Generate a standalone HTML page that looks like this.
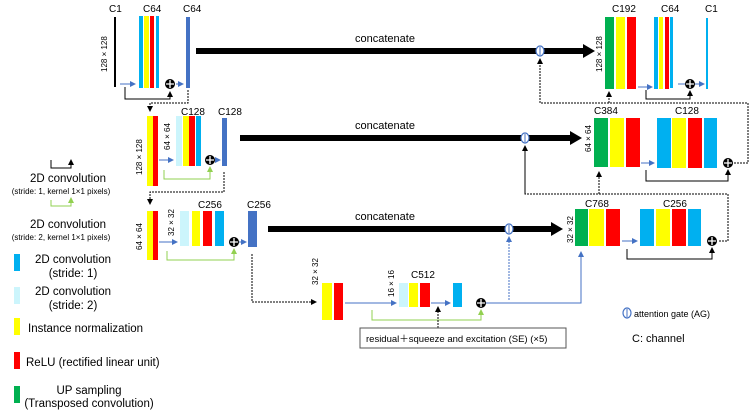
<!DOCTYPE html>
<html><head><meta charset="utf-8"><style>body{margin:0;background:#fff}svg{display:block}text{font-family:"Liberation Sans","Noto Sans CJK JP",sans-serif}</style></head><body>
<svg width="750" height="416" viewBox="0 0 750 416" xmlns="http://www.w3.org/2000/svg">
<defs>
<marker id="ab" markerWidth="6" markerHeight="6" refX="5" refY="3" orient="auto"><path d="M0,0L6,3L0,6z" fill="#4472c4"/></marker>
<marker id="ak" markerWidth="6" markerHeight="6" refX="5" refY="3" orient="auto"><path d="M0,0L6,3L0,6z" fill="#000"/></marker>
<marker id="ag" markerWidth="6" markerHeight="6" refX="5" refY="3" orient="auto"><path d="M0,0L6,3L0,6z" fill="#92d050"/></marker>
<g id="plus"><circle r="5" fill="#000"/><path d="M-4,0H4M0,-4V4" stroke="#fff" stroke-width="1.3"/></g>
<g id="ag1"><ellipse rx="4" ry="5" fill="#fff" stroke="#4472c4" stroke-width="1.2"/><line x1="0" y1="-4" x2="0" y2="4" stroke="#4472c4"/></g>
</defs>
<g font-size="10" fill="#000">
<text x="109" y="12">C1</text><text x="143" y="12">C64</text><text x="183" y="12">C64</text>
<line x1="115" y1="17" x2="115" y2="87" stroke="#000" stroke-width="2"/>
<text transform="translate(107,72) rotate(-90)" font-size="8">128 × 128</text>
<rect x="139" y="16" width="4" height="72" fill="#00b0f0"/><rect x="144" y="16" width="5" height="72" fill="#ff0"/><rect x="150" y="16" width="4" height="72" fill="#f00"/><rect x="156" y="16" width="3" height="72" fill="#00b0f0"/>
<rect x="186" y="17" width="4" height="71" fill="#4472c4"/>
<line x1="120" y1="84" x2="135" y2="84" stroke="#4472c4" marker-end="url(#ab)"/>
<line x1="176" y1="84" x2="183" y2="84" stroke="#4472c4" marker-end="url(#ab)"/>
<path d="M125,87V99H170V92" fill="none" stroke="#000" marker-end="url(#ak)"/>
<use href="#plus" x="170" y="84"/>
<path d="M188,90V103H150V111" fill="none" stroke="#000" stroke-dasharray="2,1" marker-end="url(#ak)"/>
<rect x="196" y="48" width="388" height="6" fill="#000"/><path d="M583,44L595,51L583,58z" fill="#000"/>
<text x="355" y="42" font-size="11">concatenate</text>
<use href="#ag1" x="540" y="51"/>
<text x="612" y="12">C192</text><text x="661" y="12">C64</text><text x="705" y="12">C1</text>
<text transform="translate(602,72) rotate(-90)" font-size="8">128 × 128</text>
<rect x="605" y="17" width="9" height="72" fill="#00b050"/><rect x="616" y="17" width="9" height="72" fill="#ff0"/><rect x="627" y="17" width="9" height="72" fill="#f00"/>
<rect x="654" y="17" width="4" height="72" fill="#00b0f0"/><rect x="659" y="17" width="4" height="72" fill="#ff0"/><rect x="665" y="17" width="4" height="72" fill="#f00"/><rect x="670" y="17" width="3" height="71" fill="#00b0f0"/>
<rect x="706" y="18" width="2" height="71" fill="#00b0f0"/>
<line x1="638" y1="87" x2="652" y2="87" stroke="#4472c4" marker-end="url(#ab)"/>
<line x1="678" y1="84" x2="685" y2="84" stroke="#4472c4"/><line x1="695" y1="84" x2="704" y2="84" stroke="#4472c4" marker-end="url(#ab)"/>
<path d="M646,90V99H690V91" fill="none" stroke="#000" marker-end="url(#ak)"/>
<use href="#plus" x="690" y="84"/>
<path d="M609,103V92" fill="none" stroke="#000" stroke-dasharray="2,1" marker-end="url(#ak)"/>
<path d="M540,62V103H748V163H734" fill="none" stroke="#000" stroke-dasharray="2,1"/>
<path d="M540,103V59" fill="none" stroke="#000" stroke-dasharray="2,1" marker-end="url(#ak)"/>
<text x="181" y="115">C128</text><text x="218" y="115">C128</text>
<text transform="translate(142,175) rotate(-90)" font-size="8">128 × 128</text>
<text transform="translate(170,150) rotate(-90)" font-size="8">64 × 64</text>
<rect x="147" y="116" width="6" height="70" fill="#ff0"/><rect x="153" y="116" width="5" height="70" fill="#f00"/>
<rect x="176" y="116" width="6" height="50" fill="#ccf5fc"/><rect x="183" y="116" width="6" height="50" fill="#ff0"/><rect x="189" y="116" width="6" height="50" fill="#f00"/><rect x="196" y="116" width="5" height="50" fill="#00b0f0"/>
<rect x="222" y="118" width="5" height="48" fill="#4472c4"/>
<line x1="159" y1="160" x2="173" y2="160" stroke="#4472c4" marker-end="url(#ab)"/>
<line x1="215" y1="160" x2="220" y2="160" stroke="#4472c4" marker-end="url(#ab)"/>
<path d="M164,170V179H210V167" fill="none" stroke="#92d050" marker-end="url(#ag)"/>
<use href="#plus" x="210" y="160"/>
<path d="M224,172V192H150V204" fill="none" stroke="#000" stroke-dasharray="2,1" marker-end="url(#ak)"/>
<rect x="240" y="135" width="331" height="6" fill="#000"/><path d="M570,131L582,138L570,145z" fill="#000"/>
<text x="355" y="129" font-size="11">concatenate</text>
<use href="#ag1" x="525" y="138"/>
<text x="594" y="114">C384</text><text x="675" y="114">C128</text>
<text transform="translate(591,152) rotate(-90)" font-size="8">64 × 64</text>
<rect x="594" y="118" width="14" height="49" fill="#00b050"/><rect x="610" y="118" width="14" height="49" fill="#ff0"/><rect x="626" y="118" width="14" height="49" fill="#f00"/>
<rect x="657" y="118" width="14" height="50" fill="#00b0f0"/><rect x="672" y="118" width="14" height="50" fill="#ff0"/><rect x="688" y="118" width="14" height="50" fill="#f00"/><rect x="704" y="118" width="13" height="50" fill="#00b0f0"/>
<line x1="641" y1="163" x2="654" y2="163" stroke="#4472c4" marker-end="url(#ab)"/>
<use href="#plus" x="728" y="163"/>
<path d="M646,170V181H728V170" fill="none" stroke="#000" marker-end="url(#ak)"/>
<path d="M599,194V172" fill="none" stroke="#000" stroke-dasharray="2,1" marker-end="url(#ak)"/>
<path d="M525,148V194H728V241H718" fill="none" stroke="#000" stroke-dasharray="2,1"/>
<path d="M525,194V146" fill="none" stroke="#000" stroke-dasharray="2,1" marker-end="url(#ak)"/>
<text x="198" y="208">C256</text><text x="247" y="208">C256</text>
<text transform="translate(142,250) rotate(-90)" font-size="8">64 × 64</text>
<text transform="translate(174,236) rotate(-90)" font-size="8">32 × 32</text>
<rect x="147" y="211" width="6" height="49" fill="#ff0"/><rect x="153" y="211" width="5" height="49" fill="#f00"/>
<rect x="180" y="211" width="9" height="35" fill="#ccf5fc"/><rect x="192" y="211" width="8" height="35" fill="#ff0"/><rect x="203" y="211" width="9" height="35" fill="#f00"/><rect x="215" y="211" width="9" height="35" fill="#00b0f0"/>
<rect x="248" y="211" width="9" height="36" fill="#4472c4"/>
<line x1="159" y1="242" x2="177" y2="242" stroke="#4472c4" marker-end="url(#ab)"/>
<line x1="239" y1="242" x2="246" y2="242" stroke="#4472c4" marker-end="url(#ab)"/>
<path d="M167,251V260H234V249" fill="none" stroke="#92d050" marker-end="url(#ag)"/>
<use href="#plus" x="234" y="242"/>
<path d="M252,254V302H316" fill="none" stroke="#000" stroke-dasharray="2,1" marker-end="url(#ak)"/>
<rect x="268" y="226" width="284" height="6" fill="#000"/><path d="M551,222L563,229L551,236z" fill="#000"/>
<text x="355" y="220" font-size="11">concatenate</text>
<use href="#ag1" x="509" y="229"/>
<text x="585" y="207">C768</text><text x="663" y="207">C256</text>
<text transform="translate(573,243) rotate(-90)" font-size="8">32 × 32</text>
<rect x="575" y="209" width="13" height="37" fill="#00b050"/><rect x="589" y="209" width="15" height="37" fill="#ff0"/><rect x="606" y="209" width="14" height="37" fill="#f00"/>
<rect x="640" y="209" width="14" height="37" fill="#00b0f0"/><rect x="656" y="209" width="14" height="37" fill="#ff0"/><rect x="672" y="209" width="14" height="37" fill="#f00"/><rect x="688" y="209" width="13" height="37" fill="#00b0f0"/>
<line x1="622" y1="241" x2="637" y2="241" stroke="#4472c4" marker-end="url(#ab)"/>
<use href="#plus" x="712" y="241"/>
<path d="M627,249V259H712V248" fill="none" stroke="#000" marker-end="url(#ak)"/>
<path d="M509,300V237" fill="none" stroke="#4472c4" stroke-dasharray="2,1" marker-end="url(#ab)"/>
<text transform="translate(318,285) rotate(-90)" font-size="8">32 × 32</text>
<text transform="translate(394,297) rotate(-90)" font-size="8">16 × 16</text>
<text x="411" y="278">C512</text>
<rect x="322" y="283" width="10" height="37" fill="#ff0"/><rect x="334" y="283" width="9" height="37" fill="#f00"/>
<rect x="399" y="283" width="9" height="24" fill="#ccf5fc"/><rect x="409" y="283" width="9" height="24" fill="#ff0"/><rect x="420" y="283" width="10" height="24" fill="#f00"/>
<rect x="453" y="283" width="9" height="24" fill="#00b0f0"/>
<line x1="345" y1="303" x2="396" y2="303" stroke="#4472c4" marker-end="url(#ab)"/>
<line x1="431" y1="303" x2="450" y2="303" stroke="#4472c4" marker-end="url(#ab)"/>
<path d="M486,303H581V252" fill="none" stroke="#4472c4" marker-end="url(#ab)"/>
<use href="#plus" x="481" y="303"/>
<path d="M372,310V320H481V310" fill="none" stroke="#92d050" marker-end="url(#ag)"/>
<path d="M438,328V307" fill="none" stroke="#000" stroke-dasharray="2,1" marker-end="url(#ak)"/>
<rect x="360" y="328" width="206" height="20" fill="#fff" stroke="#555"/>
<text x="366" y="342" font-size="9.5">residual＋squeeze and excitation (SE) (×5)</text>
<use href="#ag1" x="627" y="313"/>
<text x="634" y="317" font-size="9">attention gate (AG)</text>
<text x="632" y="342" font-size="11">C: channel</text>
<path d="M51,160V168H71V160" fill="none" stroke="#000" marker-end="url(#ak)"/>
<text x="68" y="182" font-size="11.5" text-anchor="middle">2D convolution</text>
<text x="61" y="194" font-size="8" text-anchor="middle">(stride: 1, kernel 1×1 pixels)</text>
<path d="M51,200V206H71V198" fill="none" stroke="#92d050" marker-end="url(#ag)"/>
<text x="68" y="228" font-size="11.5" text-anchor="middle">2D convolution</text>
<text x="61" y="240" font-size="8" text-anchor="middle">(stride: 2, kernel 1×1 pixels)</text>
<rect x="14" y="254" width="6" height="17" fill="#00b0f0"/>
<text x="73" y="263" font-size="11.5" text-anchor="middle">2D convolution</text><text x="73" y="277" font-size="11.5" text-anchor="middle">(stride: 1)</text>
<rect x="14" y="287" width="6" height="17" fill="#ccf5fc"/>
<text x="73" y="295" font-size="11.5" text-anchor="middle">2D convolution</text><text x="73" y="309" font-size="11.5" text-anchor="middle">(stride: 2)</text>
<rect x="14" y="318" width="6" height="17" fill="#ff0"/>
<text x="28" y="332" font-size="11.5">Instance normalization</text>
<rect x="14" y="352" width="6" height="17" fill="#f00"/>
<text x="26" y="366" font-size="11.5">ReLU (rectified linear unit)</text>
<rect x="14" y="386" width="6" height="17" fill="#00b050"/>
<text x="89" y="394" font-size="11.5" text-anchor="middle">UP sampling</text>
<text x="89" y="407" font-size="11.5" text-anchor="middle">(Transposed convolution)</text>
</g>
</svg>
</body></html>
